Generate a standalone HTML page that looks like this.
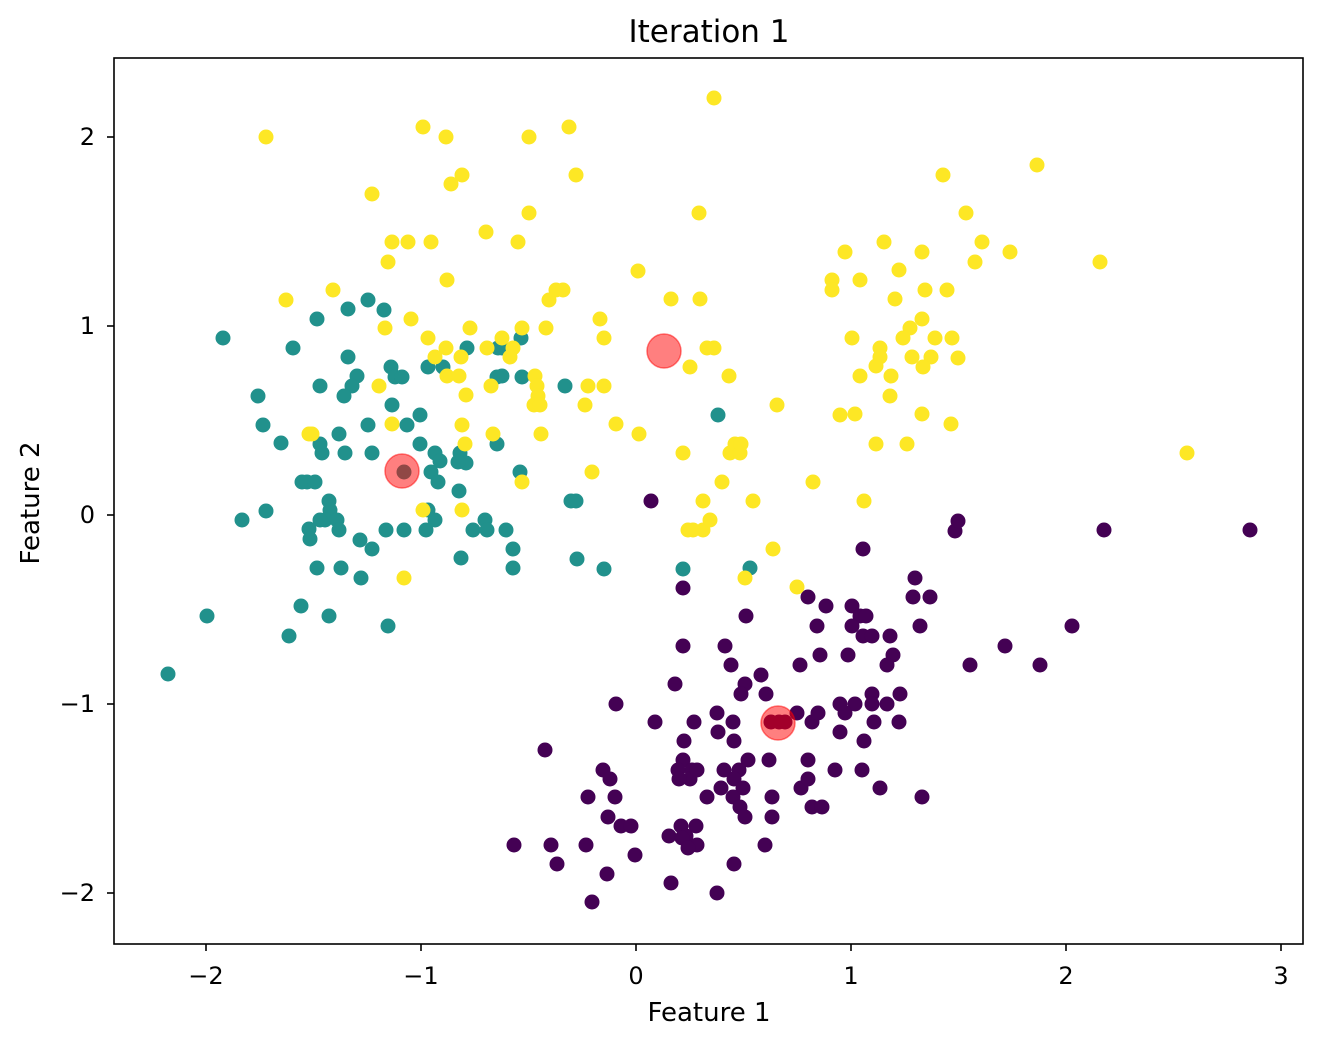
<!DOCTYPE html>
<html><head><meta charset="utf-8"><style>body{margin:0;background:#fff}svg{display:block}text{font-family:"DejaVu Sans","Liberation Sans",sans-serif;fill:#000}</style></head>
<body>
<svg width="1323" height="1046" viewBox="0 0 1323 1046" xmlns="http://www.w3.org/2000/svg">
<rect width="1323" height="1046" fill="#fff"/>
<text x="709" y="42" font-size="31" text-anchor="middle">Iteration 1</text>
<text x="709" y="1021" font-size="26" text-anchor="middle">Feature 1</text>
<text x="39" y="503" font-size="26" text-anchor="middle" transform="rotate(-90 39 503)">Feature 2</text>
<g id="pts">
<g fill="#440154">
<circle cx="651" cy="501" r="7.5"/><circle cx="955" cy="531" r="7.5"/><circle cx="958" cy="521" r="7.5"/><circle cx="1104" cy="530" r="7.5"/><circle cx="1250" cy="530" r="7.5"/><circle cx="863" cy="549" r="7.5"/><circle cx="915" cy="578" r="7.5"/><circle cx="913" cy="597" r="7.5"/><circle cx="930" cy="597" r="7.5"/><circle cx="808" cy="597" r="7.5"/><circle cx="826" cy="606" r="7.5"/><circle cx="852" cy="606" r="7.5"/><circle cx="860" cy="616" r="7.5"/><circle cx="852" cy="626" r="7.5"/><circle cx="866" cy="616" r="7.5"/><circle cx="863" cy="636" r="7.5"/><circle cx="890" cy="636" r="7.5"/><circle cx="872" cy="636" r="7.5"/><circle cx="817" cy="626" r="7.5"/><circle cx="920" cy="626" r="7.5"/><circle cx="1072" cy="626" r="7.5"/><circle cx="746" cy="616" r="7.5"/><circle cx="683" cy="588" r="7.5"/><circle cx="683" cy="646" r="7.5"/><circle cx="725" cy="646" r="7.5"/><circle cx="893" cy="655" r="7.5"/><circle cx="848" cy="655" r="7.5"/><circle cx="820" cy="655" r="7.5"/><circle cx="887" cy="665" r="7.5"/><circle cx="1005" cy="646" r="7.5"/><circle cx="1040" cy="665" r="7.5"/><circle cx="731" cy="665" r="7.5"/><circle cx="800" cy="665" r="7.5"/><circle cx="970" cy="665" r="7.5"/><circle cx="761" cy="675" r="7.5"/><circle cx="745" cy="684" r="7.5"/><circle cx="766" cy="694" r="7.5"/><circle cx="741" cy="694" r="7.5"/><circle cx="675" cy="684" r="7.5"/><circle cx="872" cy="694" r="7.5"/><circle cx="900" cy="694" r="7.5"/><circle cx="887" cy="704" r="7.5"/><circle cx="872" cy="704" r="7.5"/><circle cx="840" cy="704" r="7.5"/><circle cx="855" cy="704" r="7.5"/><circle cx="616" cy="704" r="7.5"/><circle cx="797" cy="713" r="7.5"/><circle cx="812" cy="722" r="7.5"/><circle cx="818" cy="713" r="7.5"/><circle cx="845" cy="713" r="7.5"/><circle cx="733" cy="722" r="7.5"/><circle cx="779" cy="722" r="7.5"/><circle cx="717" cy="713" r="7.5"/><circle cx="694" cy="722" r="7.5"/><circle cx="874" cy="722" r="7.5"/><circle cx="899" cy="722" r="7.5"/><circle cx="840" cy="732" r="7.5"/><circle cx="864" cy="741" r="7.5"/><circle cx="655" cy="722" r="7.5"/><circle cx="545" cy="750" r="7.5"/><circle cx="684" cy="741" r="7.5"/><circle cx="718" cy="732" r="7.5"/><circle cx="734" cy="741" r="7.5"/><circle cx="683" cy="760" r="7.5"/><circle cx="692" cy="770" r="7.5"/><circle cx="690" cy="779" r="7.5"/><circle cx="697" cy="770" r="7.5"/><circle cx="678" cy="770" r="7.5"/><circle cx="724" cy="770" r="7.5"/><circle cx="748" cy="760" r="7.5"/><circle cx="769" cy="760" r="7.5"/><circle cx="739" cy="770" r="7.5"/><circle cx="808" cy="760" r="7.5"/><circle cx="835" cy="770" r="7.5"/><circle cx="862" cy="770" r="7.5"/><circle cx="603" cy="770" r="7.5"/><circle cx="610" cy="779" r="7.5"/><circle cx="734" cy="779" r="7.5"/><circle cx="721" cy="788" r="7.5"/><circle cx="743" cy="788" r="7.5"/><circle cx="733" cy="797" r="7.5"/><circle cx="679" cy="779" r="7.5"/><circle cx="801" cy="788" r="7.5"/><circle cx="808" cy="779" r="7.5"/><circle cx="880" cy="788" r="7.5"/><circle cx="922" cy="797" r="7.5"/><circle cx="707" cy="797" r="7.5"/><circle cx="740" cy="807" r="7.5"/><circle cx="772" cy="797" r="7.5"/><circle cx="588" cy="797" r="7.5"/><circle cx="615" cy="797" r="7.5"/><circle cx="608" cy="817" r="7.5"/><circle cx="621" cy="826" r="7.5"/><circle cx="631" cy="826" r="7.5"/><circle cx="681" cy="826" r="7.5"/><circle cx="696" cy="826" r="7.5"/><circle cx="686" cy="836" r="7.5"/><circle cx="697" cy="845" r="7.5"/><circle cx="669" cy="836" r="7.5"/><circle cx="514" cy="845" r="7.5"/><circle cx="551" cy="845" r="7.5"/><circle cx="586" cy="845" r="7.5"/><circle cx="765" cy="845" r="7.5"/><circle cx="745" cy="817" r="7.5"/><circle cx="772" cy="817" r="7.5"/><circle cx="812" cy="807" r="7.5"/><circle cx="822" cy="807" r="7.5"/><circle cx="557" cy="864" r="7.5"/><circle cx="635" cy="855" r="7.5"/><circle cx="734" cy="864" r="7.5"/><circle cx="607" cy="874" r="7.5"/><circle cx="671" cy="883" r="7.5"/><circle cx="592" cy="902" r="7.5"/><circle cx="717" cy="893" r="7.5"/><circle cx="682" cy="838" r="7.5"/><circle cx="688" cy="848" r="7.5"/><circle cx="771" cy="722" r="7.5"/><circle cx="785" cy="722" r="7.5"/>
</g>
<g fill="#21918c">
<circle cx="223" cy="338" r="7.5"/><circle cx="293" cy="348" r="7.5"/><circle cx="317" cy="319" r="7.5"/><circle cx="348" cy="309" r="7.5"/><circle cx="368" cy="300" r="7.5"/><circle cx="384" cy="310" r="7.5"/><circle cx="258" cy="396" r="7.5"/><circle cx="263" cy="425" r="7.5"/><circle cx="281" cy="443" r="7.5"/><circle cx="320" cy="386" r="7.5"/><circle cx="348" cy="357" r="7.5"/><circle cx="357" cy="376" r="7.5"/><circle cx="352" cy="386" r="7.5"/><circle cx="344" cy="396" r="7.5"/><circle cx="391" cy="367" r="7.5"/><circle cx="395" cy="377" r="7.5"/><circle cx="402" cy="377" r="7.5"/><circle cx="392" cy="405" r="7.5"/><circle cx="407" cy="425" r="7.5"/><circle cx="339" cy="434" r="7.5"/><circle cx="368" cy="425" r="7.5"/><circle cx="345" cy="453" r="7.5"/><circle cx="322" cy="453" r="7.5"/><circle cx="320" cy="444" r="7.5"/><circle cx="372" cy="453" r="7.5"/><circle cx="420" cy="444" r="7.5"/><circle cx="435" cy="453" r="7.5"/><circle cx="440" cy="461" r="7.5"/><circle cx="431" cy="472" r="7.5"/><circle cx="438" cy="482" r="7.5"/><circle cx="460" cy="453" r="7.5"/><circle cx="466" cy="463" r="7.5"/><circle cx="458" cy="462" r="7.5"/><circle cx="302" cy="482" r="7.5"/><circle cx="307" cy="482" r="7.5"/><circle cx="329" cy="501" r="7.5"/><circle cx="330" cy="510" r="7.5"/><circle cx="309" cy="529" r="7.5"/><circle cx="310" cy="539" r="7.5"/><circle cx="325" cy="520" r="7.5"/><circle cx="320" cy="520" r="7.5"/><circle cx="337" cy="520" r="7.5"/><circle cx="339" cy="530" r="7.5"/><circle cx="360" cy="540" r="7.5"/><circle cx="372" cy="549" r="7.5"/><circle cx="386" cy="530" r="7.5"/><circle cx="404" cy="530" r="7.5"/><circle cx="426" cy="530" r="7.5"/><circle cx="435" cy="520" r="7.5"/><circle cx="428" cy="510" r="7.5"/><circle cx="459" cy="491" r="7.5"/><circle cx="461" cy="558" r="7.5"/><circle cx="485" cy="520" r="7.5"/><circle cx="487" cy="530" r="7.5"/><circle cx="506" cy="530" r="7.5"/><circle cx="513" cy="549" r="7.5"/><circle cx="317" cy="568" r="7.5"/><circle cx="341" cy="568" r="7.5"/><circle cx="361" cy="578" r="7.5"/><circle cx="301" cy="606" r="7.5"/><circle cx="329" cy="616" r="7.5"/><circle cx="388" cy="626" r="7.5"/><circle cx="289" cy="636" r="7.5"/><circle cx="207" cy="616" r="7.5"/><circle cx="168" cy="674" r="7.5"/><circle cx="242" cy="520" r="7.5"/><circle cx="266" cy="511" r="7.5"/><circle cx="473" cy="530" r="7.5"/><circle cx="513" cy="568" r="7.5"/><circle cx="571" cy="501" r="7.5"/><circle cx="576" cy="501" r="7.5"/><circle cx="577" cy="559" r="7.5"/><circle cx="604" cy="569" r="7.5"/><circle cx="683" cy="569" r="7.5"/><circle cx="750" cy="568" r="7.5"/><circle cx="718" cy="415" r="7.5"/><circle cx="565" cy="386" r="7.5"/><circle cx="522" cy="377" r="7.5"/><circle cx="502" cy="376" r="7.5"/><circle cx="502" cy="348" r="7.5"/><circle cx="521" cy="338" r="7.5"/><circle cx="498" cy="348" r="7.5"/><circle cx="467" cy="348" r="7.5"/><circle cx="443" cy="367" r="7.5"/><circle cx="428" cy="367" r="7.5"/><circle cx="420" cy="415" r="7.5"/><circle cx="404" cy="472" r="7.5"/><circle cx="497" cy="444" r="7.5"/><circle cx="497" cy="377" r="7.5"/><circle cx="315" cy="482" r="7.5"/><circle cx="520" cy="472" r="7.5"/>
</g>
<g fill="#fde725">
<circle cx="266" cy="137" r="7.5"/><circle cx="423" cy="127" r="7.5"/><circle cx="446" cy="137" r="7.5"/><circle cx="529" cy="137" r="7.5"/><circle cx="569" cy="127" r="7.5"/><circle cx="714" cy="98" r="7.5"/><circle cx="462" cy="175" r="7.5"/><circle cx="451" cy="184" r="7.5"/><circle cx="372" cy="194" r="7.5"/><circle cx="576" cy="175" r="7.5"/><circle cx="699" cy="213" r="7.5"/><circle cx="529" cy="213" r="7.5"/><circle cx="392" cy="242" r="7.5"/><circle cx="408" cy="242" r="7.5"/><circle cx="431" cy="242" r="7.5"/><circle cx="518" cy="242" r="7.5"/><circle cx="486" cy="232" r="7.5"/><circle cx="388" cy="262" r="7.5"/><circle cx="447" cy="280" r="7.5"/><circle cx="286" cy="300" r="7.5"/><circle cx="333" cy="290" r="7.5"/><circle cx="638" cy="271" r="7.5"/><circle cx="556" cy="290" r="7.5"/><circle cx="563" cy="290" r="7.5"/><circle cx="549" cy="300" r="7.5"/><circle cx="546" cy="328" r="7.5"/><circle cx="522" cy="328" r="7.5"/><circle cx="411" cy="319" r="7.5"/><circle cx="385" cy="328" r="7.5"/><circle cx="428" cy="338" r="7.5"/><circle cx="446" cy="348" r="7.5"/><circle cx="435" cy="357" r="7.5"/><circle cx="470" cy="328" r="7.5"/><circle cx="461" cy="357" r="7.5"/><circle cx="502" cy="338" r="7.5"/><circle cx="513" cy="348" r="7.5"/><circle cx="487" cy="348" r="7.5"/><circle cx="510" cy="357" r="7.5"/><circle cx="600" cy="319" r="7.5"/><circle cx="604" cy="338" r="7.5"/><circle cx="671" cy="299" r="7.5"/><circle cx="700" cy="299" r="7.5"/><circle cx="707" cy="348" r="7.5"/><circle cx="714" cy="348" r="7.5"/><circle cx="690" cy="367" r="7.5"/><circle cx="729" cy="376" r="7.5"/><circle cx="777" cy="405" r="7.5"/><circle cx="604" cy="386" r="7.5"/><circle cx="535" cy="376" r="7.5"/><circle cx="537" cy="386" r="7.5"/><circle cx="538" cy="396" r="7.5"/><circle cx="534" cy="405" r="7.5"/><circle cx="540" cy="405" r="7.5"/><circle cx="491" cy="386" r="7.5"/><circle cx="466" cy="395" r="7.5"/><circle cx="447" cy="376" r="7.5"/><circle cx="459" cy="376" r="7.5"/><circle cx="379" cy="386" r="7.5"/><circle cx="392" cy="424" r="7.5"/><circle cx="309" cy="434" r="7.5"/><circle cx="462" cy="425" r="7.5"/><circle cx="465" cy="444" r="7.5"/><circle cx="541" cy="434" r="7.5"/><circle cx="616" cy="424" r="7.5"/><circle cx="639" cy="434" r="7.5"/><circle cx="493" cy="434" r="7.5"/><circle cx="585" cy="405" r="7.5"/><circle cx="588" cy="386" r="7.5"/><circle cx="683" cy="453" r="7.5"/><circle cx="730" cy="453" r="7.5"/><circle cx="735" cy="444" r="7.5"/><circle cx="740" cy="453" r="7.5"/><circle cx="741" cy="444" r="7.5"/><circle cx="592" cy="472" r="7.5"/><circle cx="722" cy="482" r="7.5"/><circle cx="522" cy="482" r="7.5"/><circle cx="462" cy="510" r="7.5"/><circle cx="423" cy="510" r="7.5"/><circle cx="703" cy="501" r="7.5"/><circle cx="703" cy="530" r="7.5"/><circle cx="693" cy="530" r="7.5"/><circle cx="710" cy="520" r="7.5"/><circle cx="753" cy="501" r="7.5"/><circle cx="773" cy="549" r="7.5"/><circle cx="745" cy="578" r="7.5"/><circle cx="797" cy="587" r="7.5"/><circle cx="404" cy="578" r="7.5"/><circle cx="943" cy="175" r="7.5"/><circle cx="1037" cy="165" r="7.5"/><circle cx="966" cy="213" r="7.5"/><circle cx="884" cy="242" r="7.5"/><circle cx="845" cy="252" r="7.5"/><circle cx="860" cy="280" r="7.5"/><circle cx="832" cy="280" r="7.5"/><circle cx="832" cy="290" r="7.5"/><circle cx="899" cy="270" r="7.5"/><circle cx="895" cy="299" r="7.5"/><circle cx="925" cy="290" r="7.5"/><circle cx="982" cy="242" r="7.5"/><circle cx="975" cy="262" r="7.5"/><circle cx="1010" cy="252" r="7.5"/><circle cx="1100" cy="262" r="7.5"/><circle cx="1187" cy="453" r="7.5"/><circle cx="947" cy="290" r="7.5"/><circle cx="922" cy="252" r="7.5"/><circle cx="922" cy="319" r="7.5"/><circle cx="910" cy="328" r="7.5"/><circle cx="903" cy="338" r="7.5"/><circle cx="935" cy="338" r="7.5"/><circle cx="952" cy="338" r="7.5"/><circle cx="958" cy="358" r="7.5"/><circle cx="931" cy="357" r="7.5"/><circle cx="912" cy="357" r="7.5"/><circle cx="880" cy="348" r="7.5"/><circle cx="880" cy="357" r="7.5"/><circle cx="852" cy="338" r="7.5"/><circle cx="891" cy="376" r="7.5"/><circle cx="876" cy="366" r="7.5"/><circle cx="860" cy="376" r="7.5"/><circle cx="923" cy="367" r="7.5"/><circle cx="890" cy="396" r="7.5"/><circle cx="855" cy="414" r="7.5"/><circle cx="840" cy="415" r="7.5"/><circle cx="922" cy="414" r="7.5"/><circle cx="951" cy="424" r="7.5"/><circle cx="876" cy="444" r="7.5"/><circle cx="907" cy="444" r="7.5"/><circle cx="864" cy="501" r="7.5"/><circle cx="813" cy="482" r="7.5"/><circle cx="688" cy="530" r="7.5"/><circle cx="312" cy="434" r="7.5"/>
</g>
</g>
<g fill="#ff0000" fill-opacity="0.5" stroke="#ff0000" stroke-opacity="0.5" stroke-width="1.5">
<circle cx="664" cy="351" r="17"/><circle cx="402" cy="471" r="17"/><circle cx="778" cy="723" r="17"/>
</g>
<rect x="114" y="58" width="1189" height="886" fill="none" stroke="#000" stroke-width="1.6"/>
<g stroke="#000" stroke-width="1.6">
<line x1="206" y1="944" x2="206" y2="951"/><line x1="421" y1="944" x2="421" y2="951"/><line x1="636" y1="944" x2="636" y2="951"/><line x1="851" y1="944" x2="851" y2="951"/><line x1="1066" y1="944" x2="1066" y2="951"/><line x1="1281" y1="944" x2="1281" y2="951"/>
<line x1="107" y1="137" x2="114" y2="137"/><line x1="107" y1="326" x2="114" y2="326"/><line x1="107" y1="515" x2="114" y2="515"/><line x1="107" y1="704" x2="114" y2="704"/><line x1="107" y1="893" x2="114" y2="893"/>
</g>
<g font-size="24" text-anchor="middle">
<text x="206" y="984">−2</text><text x="421" y="984">−1</text><text x="636" y="984">0</text><text x="851" y="984">1</text><text x="1066" y="984">2</text><text x="1281" y="984">3</text>
</g>
<g font-size="24" text-anchor="end">
<text x="95" y="145">2</text><text x="95" y="334">1</text><text x="95" y="523">0</text><text x="95" y="712">−1</text><text x="95" y="901">−2</text>
</g>
</svg>
</body></html>
